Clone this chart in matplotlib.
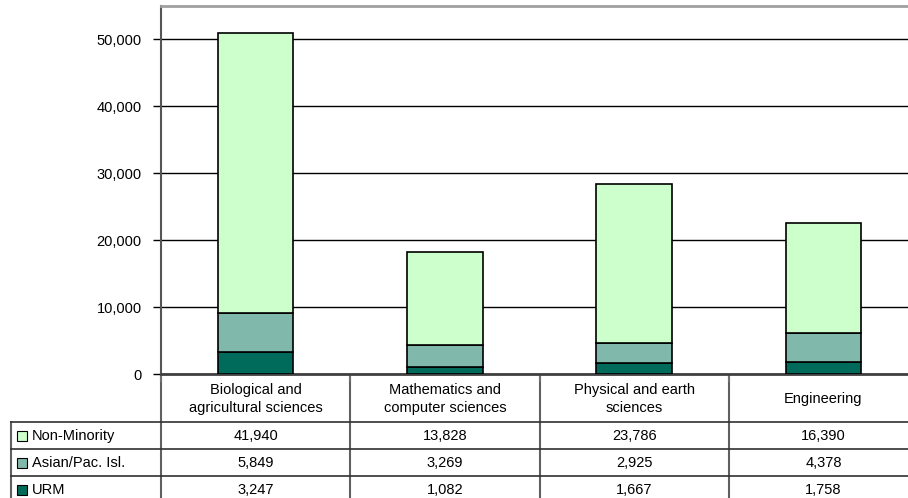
import matplotlib.pyplot as plt
from matplotlib.lines import Line2D
from matplotlib.patches import Rectangle
from matplotlib.ticker import FuncFormatter, FixedLocator

plt.rcParams['font.family'] = ['Liberation Sans', 'DejaVu Sans']

categories = ['Biological and\nagricultural sciences',
              'Mathematics and\ncomputer sciences',
              'Physical and earth\nsciences',
              'Engineering']
series_names = ['Non-Minority', 'Asian/Pac. Isl.', 'URM']
non_minority = [41940, 13828, 23786, 16390]
asian = [5849, 3269, 2925, 4378]
urm = [3247, 1082, 1667, 1758]

colors = {'Non-Minority': '#CCFFCC', 'Asian/Pac. Isl.': '#80B8AC', 'URM': '#006B5A'}
FS = 10.5
W, H = 908, 498

fig = plt.figure(figsize=(W / 100, H / 100), dpi=100)

# plot area in pixel units (right edge runs past the figure)
left, right, top, zero = 161, 918, 6, 374
ax = fig.add_axes([left / W, (H - zero) / H, (right - left) / W, (zero - top) / H])

x = list(range(len(categories)))
bw = 0.4
ax.bar(x, urm, bw, color=colors['URM'], edgecolor='black', linewidth=1.2, zorder=3)
ax.bar(x, asian, bw, bottom=urm, color=colors['Asian/Pac. Isl.'],
       edgecolor='black', linewidth=1.2, zorder=3)
base2 = [u + a for u, a in zip(urm, asian)]
ax.bar(x, non_minority, bw, bottom=base2, color=colors['Non-Minority'],
       edgecolor='black', linewidth=1.2, zorder=3)

ax.set_xlim(-0.5, len(categories) - 0.5)
ax.set_ylim(0, 55000)
ax.set_yticks(range(0, 50001, 10000))
ax.yaxis.set_major_formatter(FuncFormatter(lambda v, p: f'{int(v):,}'))
ax.tick_params(axis='y', direction='out', length=6, width=1, labelsize=FS, pad=8,
               colors='black')
ax.set_xticks([])
ax.xaxis.set_minor_locator(FixedLocator([i - 0.5 for i in range(len(categories) + 1)]))
ax.tick_params(axis='x', which='minor', direction='out', length=6, width=1.5,
               color='#707070')
ax.grid(axis='y', color='black', linewidth=1, zorder=1)
ax.set_axisbelow(True)

ax.spines['right'].set_visible(False)
ax.spines['top'].set_color('#A0A0A0')
ax.spines['top'].set_linewidth(2)
ax.spines['left'].set_color('#555555')
ax.spines['left'].set_linewidth(1.5)
ax.spines['bottom'].set_color('#404040')
ax.spines['bottom'].set_linewidth(2)

# data table under the bars, drawn in pixel coordinates
tab = fig.add_axes([0, 0, 1, 1], zorder=-1)
tab.set_xlim(0, W)
tab.set_ylim(H, 0)
tab.axis('off')

col_w = (right - left) / len(categories)
header_bot = 422
row_h = 27
rows = [non_minority, asian, urm]
table_bot = header_bot + row_h * len(rows) + 5

# vertical lines
for i in range(len(categories) + 1):
    xv = left + i * col_w
    tab.add_line(Line2D([xv, xv], [zero, table_bot], color='#606060', lw=1.5))
tab.add_line(Line2D([11, 11], [header_bot, table_bot], color='#606060', lw=1.5))
# horizontal lines
for r in range(len(rows)):
    yh = header_bot + r * row_h
    tab.add_line(Line2D([11, W], [yh, yh], color='#303030', lw=1.2))

for i, cat in enumerate(categories):
    cx = left + (i + 0.5) * col_w
    tab.text(cx, (zero + header_bot) / 2 + 1, cat, ha='center', va='center',
             fontsize=FS, linespacing=1.45)
    for r, vals in enumerate(rows):
        cy = header_bot + (r + 0.5) * row_h
        tab.text(cx, cy, f'{vals[i]:,}', ha='center', va='center', fontsize=FS)

for r, name in enumerate(series_names):
    cy = header_bot + (r + 0.5) * row_h
    tab.add_patch(Rectangle((17, cy - 5), 10, 10, facecolor=colors[name],
                            edgecolor='black', lw=0.8))
    tab.text(32, cy, name, ha='left', va='center', fontsize=FS)

fig.savefig('out.png', dpi=100)
